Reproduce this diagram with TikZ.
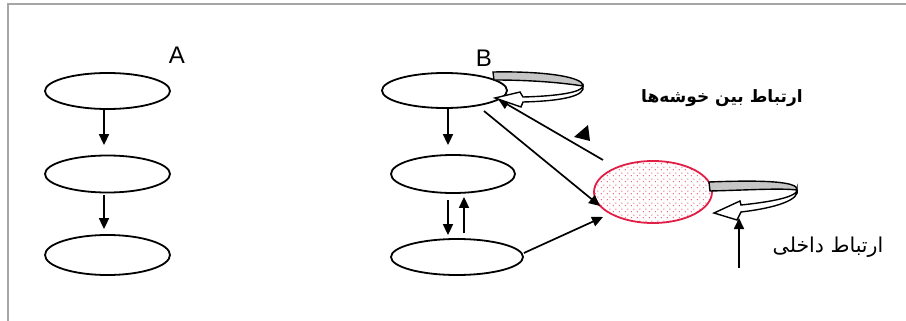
\documentclass[tikz,border=0pt]{standalone}
\usepackage{fontspec}
\setmainfont{Liberation Sans}
\newfontfamily\arabicfont[Script=Arabic]{DejaVu Sans}
\TeXXeTstate=1
\usetikzlibrary{shapes.geometric,arrows.meta,patterns.meta}
\definecolor{crim}{RGB}{225,30,70}
\tikzdeclarepattern{name=sdots,type=uncolored,
  bounding box={(0pt,0pt) and (6pt,6pt)},tile size={(6pt,6pt)},
  code={\pgfpathcircle{\pgfpoint{1.5pt}{1.5pt}}{0.8pt}\pgfpathcircle{\pgfpoint{4.5pt}{4.5pt}}{0.8pt}\pgfusepath{fill}}}
\begin{document}
\begin{tikzpicture}[x=1pt,y=-1pt,
  oval/.style={draw,ellipse,line width=1.8pt,inner sep=0pt,minimum width=125pt,minimum height=36pt},
  arr/.style={line width=1.7pt,-{Triangle[length=11pt,width=10pt]}},
  band/.style={draw,line width=1.4pt,fill=gray!45},
  wband/.style={draw,line width=1.4pt,fill=white},
  lbl/.style={font=\fontsize{24}{24}\selectfont,inner sep=0pt}]
\useasboundingbox (0,0) rectangle (906,321);
% frame
\draw[gray!70,line width=1.3pt] (8,321) -- (8,4) -- (906,4);
% A column
\node[lbl] (la) at (177,55) {A};
\node[oval] (a1) at (107.5,91) {};
\node[oval,minimum height=37pt] (a2) at (107.5,174) {};
\node[oval,minimum height=40pt] (a3) at (107.5,255) {};
\draw[arr,shorten >=9.5pt] ([xshift=-3.5pt]a1.south) -- ([xshift=-3.5pt]a2.north);
\draw[arr,shorten >=5pt,shorten <=2pt] ([xshift=-3.5pt]a2.south) -- ([xshift=-3.5pt]a3.north);
% B column
\node[lbl] (lb) at (484,58) {B};
\node[oval,minimum height=35pt] (b1) at (444.5,90.5) {};
\node[oval,minimum width=124pt,minimum height=38pt] (b2) at (453,174) {};
\node[oval,minimum width=132pt,minimum height=36pt] (b3) at (457,257) {};
\node[oval,draw=crim,pattern={sdots},pattern color=crim!70,minimum width=118pt,minimum height=62pt] (r) at (653,192) {};
\draw[arr,shorten >=9pt] ([xshift=3.5pt]b1.south) -- ([xshift=-5pt]b2.north);
\draw[arr,shorten <=6pt,shorten >=3pt] ([xshift=-5pt]b2.south) -- ([xshift=-9pt]b3.north);
\draw[arr,shorten <=5pt,shorten >=3pt] ([xshift=7pt]b3.north) -- ([xshift=11pt]b2.south);
\draw[arr] ([shift={(0pt,4pt)}]b3.east) -- ([shift={(-50pt,-25pt)}]r.center);
\draw[arr] ([shift={(39.5pt,-20.5pt)}]b1.center) -- ([shift={(-53pt,-14pt)}]r.center);
\draw[arr] ([shift={(-50pt,32pt)}]r.center) -- ([shift={(53.5pt,-8.5pt)}]b1.center);
\fill (588,125) -- (590,141) -- (574,137) -- cycle;
% curved arrow on b1
\draw[band] (493,72) .. controls (545,71) and (584,77) .. (583,86) .. controls (570,84) and (540,80) .. (494,80) -- cycle;
\draw[wband] (583,86) .. controls (582,92) and (560,96) .. (523,97) -- (520,92) -- (495,98) -- (521,107) -- (523,102) .. controls (562,101) and (586,96) .. (583,86) -- cycle;
% curved arrow on r
\draw[band] (709,182) .. controls (760,180) and (799,181) .. (797,190) .. controls (780,188) and (750,190) .. (710,191) -- cycle;
\draw[wband] (797,189) .. controls (799,197) and (770,202) .. (741,205) -- (740,201) -- (714,213) -- (737,220) -- (741,212) .. controls (775,208) and (801,200) .. (797,189) -- cycle;
\coordinate (inb) at (739,268);
\coordinate (inbtip) at (739,218);
\draw[arr] (inb) -- (inbtip);
% labels
\node[font=\arabicfont\bfseries\fontsize{17}{17}\selectfont] (t1) at (722,98) {\beginR ارتباط بین خوشه‌ها\endR};
\node[font=\arabicfont\fontsize{20.5}{20.5}\selectfont] (t2) at (828,247) {\beginR ارتباط داخلی\endR};
\end{tikzpicture}
\end{document}
